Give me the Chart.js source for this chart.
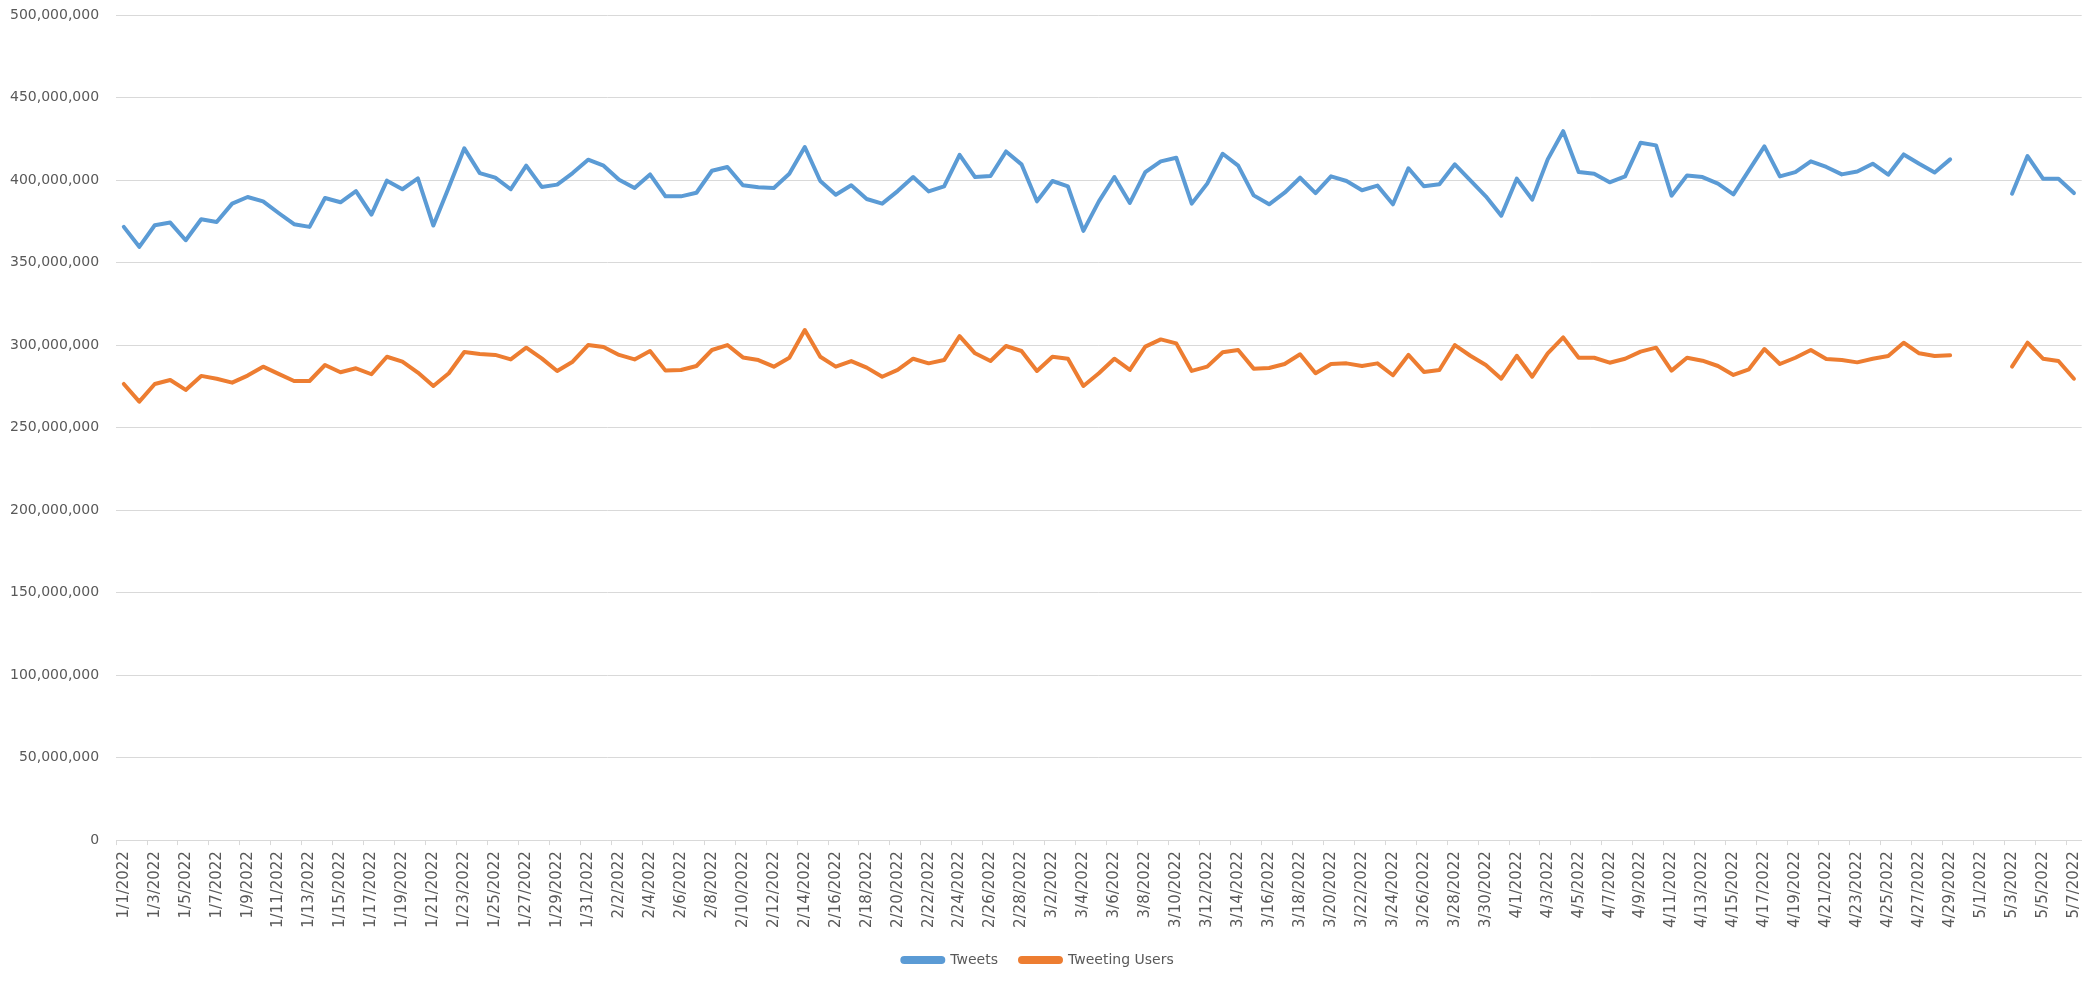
<!DOCTYPE html>
<html>
<head>
<meta charset="utf-8">
<script src="https://cdn.jsdelivr.net/npm/chart.js@4/dist/chart.umd.min.js"></script>
<style>
html,body{margin:0;padding:0;background:#fff;}
#wrap{width:2098px;height:981px;position:relative;}
</style>
</head>
<body>
<div id="wrap"><canvas id="c"></canvas></div>
<script>
const dates = [
"1/1/2022","1/2/2022","1/3/2022","1/4/2022","1/5/2022","1/6/2022","1/7/2022","1/8/2022","1/9/2022","1/10/2022",
"1/11/2022","1/12/2022","1/13/2022","1/14/2022","1/15/2022","1/16/2022","1/17/2022","1/18/2022","1/19/2022","1/20/2022",
"1/21/2022","1/22/2022","1/23/2022","1/24/2022","1/25/2022","1/26/2022","1/27/2022","1/28/2022","1/29/2022","1/30/2022","1/31/2022",
"2/1/2022","2/2/2022","2/3/2022","2/4/2022","2/5/2022","2/6/2022","2/7/2022","2/8/2022","2/9/2022","2/10/2022",
"2/11/2022","2/12/2022","2/13/2022","2/14/2022","2/15/2022","2/16/2022","2/17/2022","2/18/2022","2/19/2022","2/20/2022",
"2/21/2022","2/22/2022","2/23/2022","2/24/2022","2/25/2022","2/26/2022","2/27/2022","2/28/2022",
"3/1/2022","3/2/2022","3/3/2022","3/4/2022","3/5/2022","3/6/2022","3/7/2022","3/8/2022","3/9/2022","3/10/2022",
"3/11/2022","3/12/2022","3/13/2022","3/14/2022","3/15/2022","3/16/2022","3/17/2022","3/18/2022","3/19/2022","3/20/2022",
"3/21/2022","3/22/2022","3/23/2022","3/24/2022","3/25/2022","3/26/2022","3/27/2022","3/28/2022","3/29/2022","3/30/2022","3/31/2022",
"4/1/2022","4/2/2022","4/3/2022","4/4/2022","4/5/2022","4/6/2022","4/7/2022","4/8/2022","4/9/2022","4/10/2022",
"4/11/2022","4/12/2022","4/13/2022","4/14/2022","4/15/2022","4/16/2022","4/17/2022","4/18/2022","4/19/2022","4/20/2022",
"4/21/2022","4/22/2022","4/23/2022","4/24/2022","4/25/2022","4/26/2022","4/27/2022","4/28/2022","4/29/2022","4/30/2022",
"5/1/2022","5/2/2022","5/3/2022","5/4/2022","5/5/2022","5/6/2022","5/7/2022"
];

// values in millions
const tweetsM = [
371.6,359.5,372.6,374.2,363.5,376.2,374.6,385.7,389.7,387.1,380.0,373.2,371.6,389.1,386.5,393.3,379.0,399.6,394.4,401.0,372.4,395.6,419.2,
404.2,401.4,394.4,408.7,395.8,397.2,404.2,412.3,408.7,400.2,395.2,403.4,390.1,390.1,392.3,405.6,407.9,396.8,395.6,395.2,403.8,420.0,
399.4,391.1,396.8,388.5,385.7,393.3,401.8,393.1,396.2,415.3,401.8,402.4,417.3,409.5,387.1,399.4,396.2,369.2,387.1,401.8,386.1,404.8,411.3,
413.5,385.7,397.8,415.9,408.7,390.7,385.3,392.3,401.4,392.1,402.2,399.4,393.8,396.6,385.3,407.1,396.2,397.4,409.5,399.8,390.1,378.4,400.8,
388.1,412.5,429.6,404.8,403.8,398.6,402.2,422.6,421.0,390.5,402.8,401.8,397.8,391.3,405.8,420.4,402.2,404.8,
411.3,407.9,403.4,405.2,409.9,403.2,415.5,409.9,404.6,412.5,
null,null,null,
391.7,414.5,400.8,400.8,392.1
];

const usersM = [
276.4,265.7,276.4,278.8,272.8,281.3,279.6,277.2,281.5,286.9,282.5,278.2,278.2,287.9,283.5,285.9,282.3,292.9,289.9,283.3,275.2,282.9,295.8,
294.6,294.0,291.3,298.4,291.9,284.3,289.9,300.0,298.8,294.0,291.3,296.4,284.5,284.9,287.3,297.0,300.0,292.5,290.9,286.9,292.3,309.1,
292.9,286.9,290.3,286.3,280.8,284.9,291.7,288.9,290.9,305.4,295.0,290.3,299.4,296.4,284.3,292.9,291.7,275.2,282.9,291.7,284.9,299.0,303.4,
301.0,284.3,286.9,295.6,297.0,285.7,286.1,288.5,294.4,282.9,288.5,288.9,287.3,288.9,281.7,294.0,283.7,284.9,300.0,293.5,287.9,279.6,293.5,
280.8,295.0,304.6,292.3,292.3,289.3,291.7,296.0,298.4,284.5,292.3,290.5,287.3,281.9,285.3,297.6,288.5,292.3,
297.0,291.5,290.9,289.5,291.7,293.3,301.4,295.0,293.3,293.8,
null,null,null,
286.9,301.4,291.7,290.3,279.6
];

const yTicks = [0,50000000,100000000,150000000,200000000,250000000,300000000,350000000,400000000,450000000,500000000];
const seriesNames = ["Tweets","Tweeting Users"];
const seriesColors = ["#5B9BD5","#ED7D31"];

const toUnits = a => a.map(v => v === null ? null : Math.round(v * 1e6));

Chart.defaults.font.family = "'DejaVu Sans', sans-serif";
Chart.defaults.font.size = 14;
Chart.defaults.color = "#595959";

const canvas = document.getElementById('c');
canvas.width = 2098; canvas.height = 981;

new Chart(canvas, {
  type: 'line',
  data: {
    labels: dates,
    datasets: [
      {label: seriesNames[0], data: toUnits(tweetsM), borderColor: seriesColors[0], backgroundColor: seriesColors[0]},
      {label: seriesNames[1], data: toUnits(usersM), borderColor: seriesColors[1], backgroundColor: seriesColors[1]}
    ].map(d => Object.assign(d, {borderWidth: 4, pointRadius: 0, pointHoverRadius: 0, tension: 0, fill: false, spanGaps: false, borderCapStyle: 'round', borderJoinStyle: 'round'}))
  },
  options: {
    responsive: false,
    animation: false,
    devicePixelRatio: 1,
    layout: {padding: {left: -7, right: 15, top: 15, bottom: 4}},
    plugins: {
      tooltip: {enabled: false},
      legend: {
        position: 'bottom',
        labels: {
          boxWidth: 41, boxHeight: 4, padding: 22, color: '#595959',
          font: {size: 14},
          useBorderRadius: true, borderRadius: 2
        }
      }
    },
    scales: {
      x: {
        offset: true,
        grid: {
          offset: true,
          drawOnChartArea: false,
          drawTicks: true,
          tickLength: 5,
          color: ctx => (ctx.index % 2 === 0 ? '#D9D9D9' : 'rgba(0,0,0,0)'),
          lineWidth: 1
        },
        border: {display: true, color: '#D9D9D9', width: 1},
        ticks: {
          autoSkip: false, maxRotation: 90, minRotation: 90, padding: 6,
          color: '#595959', font: {size: 15},
          callback: function(v, i) { return i % 2 === 0 ? dates[i] : ''; }
        },
        afterFit: s => { s.height -= 3; }
      },
      y: {
        min: 0, max: 500000000,
        afterBuildTicks: s => { s.ticks = yTicks.map(v => ({value: v})); },
        afterFit: s => { s.paddingTop = 0; },
        grid: {color: '#D9D9D9', lineWidth: 1, drawTicks: false},
        border: {display: false},
        ticks: {
          padding: 17, color: '#595959', font: {size: 14},
          callback: v => Number(v).toLocaleString('en-US')
        }
      }
    }
  }
});
</script>
</body>
</html>
